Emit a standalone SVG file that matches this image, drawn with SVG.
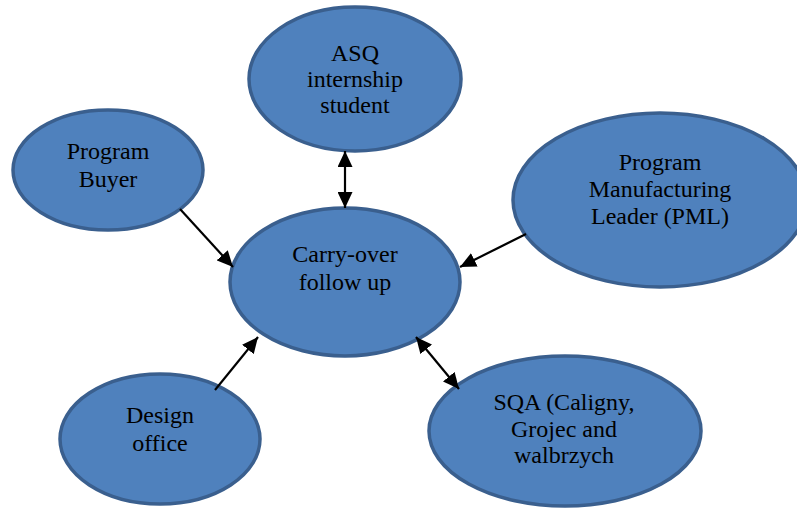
<svg xmlns="http://www.w3.org/2000/svg" width="797" height="509" viewBox="0 0 797 509">
<style>
.node ellipse{fill:#4F81BD;stroke:#3A5F8E;stroke-width:3.5}
.node text{font-family:"Liberation Serif","Times New Roman",serif;font-size:24px;fill:#000;text-anchor:middle}
.edges line{stroke:#000;stroke-width:2.2}
</style>
<defs>
<marker id="ah" viewBox="0 0 16 15" refX="16" refY="7.5" markerWidth="16" markerHeight="15" markerUnits="userSpaceOnUse" orient="auto-start-reverse">
<path d="M0,0 L16,7.5 L0,15 Z" fill="#000"/>
</marker>
</defs>
<rect width="797" height="509" fill="#fff"/>
<g id="asq" class="node">
<ellipse cx="355" cy="79" rx="106" ry="72"/>
<text x="355" y="61">ASQ</text>
<text x="355" y="87">internship</text>
<text x="355" y="113">student</text>
</g>
<g id="buyer" class="node">
<ellipse cx="108" cy="170" rx="95" ry="60"/>
<text x="108" y="159">Program</text>
<text x="108" y="187">Buyer</text>
</g>
<g id="pml" class="node">
<ellipse cx="660" cy="200" rx="147" ry="87"/>
<text x="660" y="170">Program</text>
<text x="660" y="197">Manufacturing</text>
<text x="660" y="224">Leader (PML)</text>
</g>
<g id="carry" class="node">
<ellipse cx="345" cy="282" rx="115" ry="74"/>
<text x="345" y="262">Carry-over</text>
<text x="345" y="290">follow up</text>
</g>
<g id="design" class="node">
<ellipse cx="160" cy="439" rx="100" ry="65"/>
<text x="160" y="423">Design</text>
<text x="160" y="451">office</text>
</g>
<g id="sqa" class="node">
<ellipse cx="565" cy="431" rx="136" ry="75"/>
<text x="564" y="410">SQA (Caligny,</text>
<text x="564" y="437">Grojec and</text>
<text x="564" y="463">walbrzych</text>
</g>
<g id="connectors" class="edges">
<line x1="345" y1="151" x2="345" y2="208" marker-start="url(#ah)" marker-end="url(#ah)"/>
<line x1="180" y1="209" x2="233" y2="267" marker-end="url(#ah)"/>
<line x1="526" y1="234" x2="460" y2="267" marker-end="url(#ah)"/>
<line x1="215" y1="390" x2="258" y2="337" marker-end="url(#ah)"/>
<line x1="416" y1="337" x2="459" y2="389" marker-start="url(#ah)" marker-end="url(#ah)"/>
</g>
</svg>
